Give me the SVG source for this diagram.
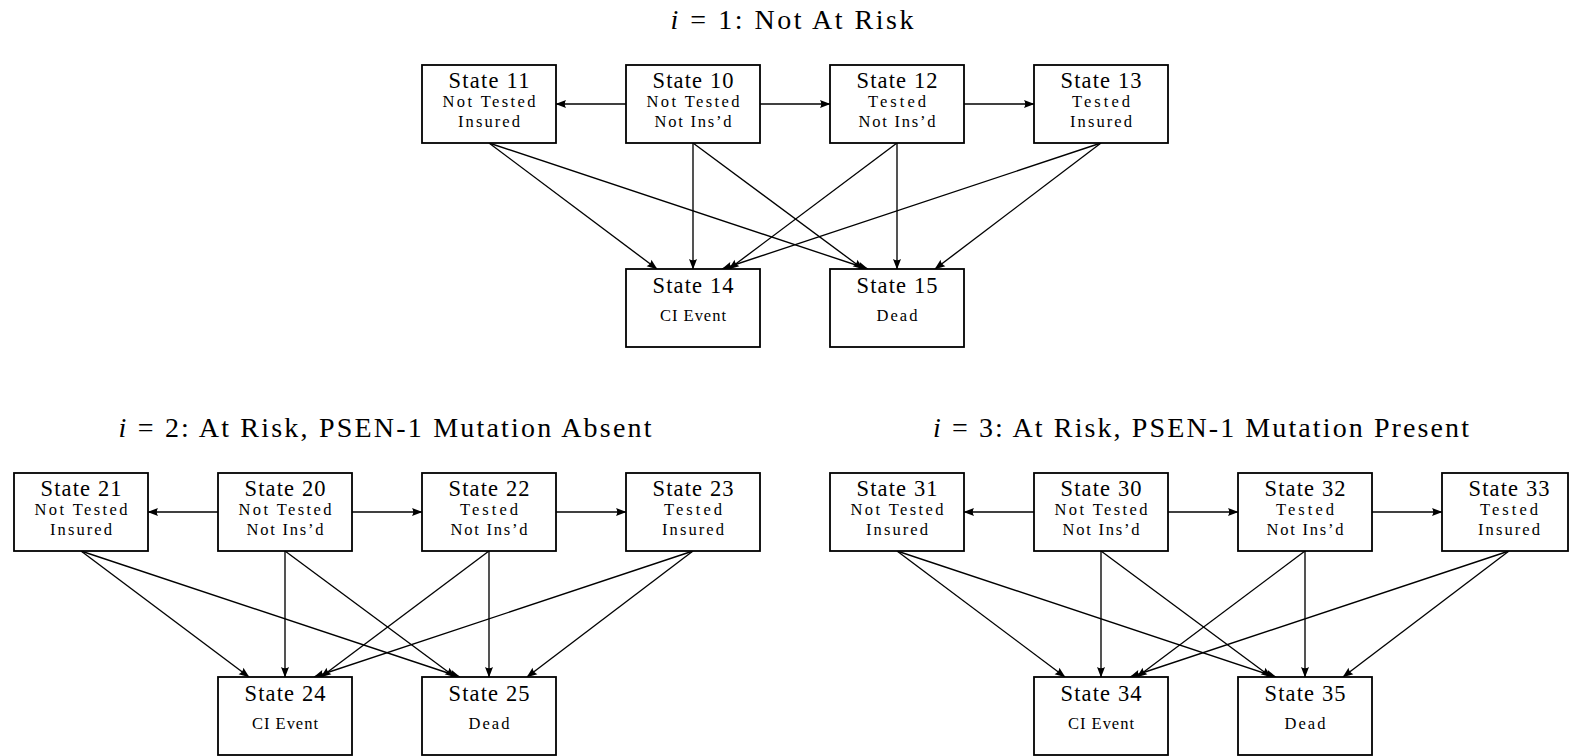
<svg xmlns="http://www.w3.org/2000/svg" width="1570" height="756" viewBox="0 0 1570 756">
<style>
  .box { fill: #ffffff; stroke: #000000; stroke-width: 1.8; }
  .t1 { font-family: "Liberation Serif", "Times New Roman", serif; font-size: 22.5px; text-anchor: middle; fill: #000; }
  .t2 { font-family: "Liberation Serif", "Times New Roman", serif; font-size: 16.5px; text-anchor: middle; fill: #000; }
  .title { font-family: "Liberation Serif", "Times New Roman", serif; font-size: 28px; text-anchor: middle; fill: #000; }
  .edge { fill: none; stroke: #000000; stroke-width: 1.35; marker-end: url(#arr); }
</style>
<defs>
  <marker id="arr" markerUnits="userSpaceOnUse" viewBox="-11 -5 12 10" refX="0" refY="0" markerWidth="12" markerHeight="10" orient="auto">
    <path d="M0.5,0 L-10,-4 Q-7.5,0 -10,4 Z" fill="#000"/>
  </marker>
</defs>
<rect width="1570" height="756" fill="#ffffff"/>

<text class="title" x="792" y="29" textLength="243" lengthAdjust="spacing"><tspan font-style="italic">i</tspan> = 1: Not At Risk</text>
<text class="title" x="385" y="437" textLength="533" lengthAdjust="spacing"><tspan font-style="italic">i</tspan> = 2: At Risk, PSEN-1 Mutation Absent</text>
<text class="title" x="1201" y="437" textLength="536" lengthAdjust="spacing"><tspan font-style="italic">i</tspan> = 3: At Risk, PSEN-1 Mutation Present</text>

<!-- Panel 1 -->
<g id="panel1" transform="translate(422,65)">
  <g id="connectors1">
    <path class="edge" d="M204,39 L134,39"/>
    <path class="edge" d="M338,39 L408,39"/>
    <path class="edge" d="M542,39 L612,39"/>
    <path class="edge" d="M67,78 L235,204"/>
    <path class="edge" d="M67,78 L446,204"/>
    <path class="edge" d="M271,78 L271,204"/>
    <path class="edge" d="M271,78 L441,204"/>
    <path class="edge" d="M475,78 L307,204"/>
    <path class="edge" d="M475,78 L475,204"/>
    <path class="edge" d="M679,78 L300,204"/>
    <path class="edge" d="M679,78 L513,204"/>
  </g>
  <g id="state11">
    <rect class="box" x="0" y="0" width="134" height="78"/>
    <text class="t1" x="67" y="23" textLength="81" lengthAdjust="spacing">State 11</text>
    <text class="t2" x="67" y="42" textLength="93" lengthAdjust="spacing">Not Tested</text>
    <text class="t2" x="67" y="62" textLength="62" lengthAdjust="spacing">Insured</text>
  </g>
  <g id="state10">
    <rect class="box" x="204" y="0" width="134" height="78"/>
    <text class="t1" x="271" y="23" textLength="81" lengthAdjust="spacing">State 10</text>
    <text class="t2" x="271" y="42" textLength="93" lengthAdjust="spacing">Not Tested</text>
    <text class="t2" x="271" y="62" textLength="77" lengthAdjust="spacing">Not Ins’d</text>
  </g>
  <g id="state12">
    <rect class="box" x="408" y="0" width="134" height="78"/>
    <text class="t1" x="475" y="23" textLength="81" lengthAdjust="spacing">State 12</text>
    <text class="t2" x="475" y="42" textLength="58" lengthAdjust="spacing">Tested</text>
    <text class="t2" x="475" y="62" textLength="77" lengthAdjust="spacing">Not Ins’d</text>
  </g>
  <g id="state13">
    <rect class="box" x="612" y="0" width="134" height="78"/>
    <text class="t1" x="679" y="23" textLength="81" lengthAdjust="spacing">State 13</text>
    <text class="t2" x="679" y="42" textLength="58" lengthAdjust="spacing">Tested</text>
    <text class="t2" x="679" y="62" textLength="62" lengthAdjust="spacing">Insured</text>
  </g>
  <g id="state14">
    <rect class="box" x="204" y="204" width="134" height="78"/>
    <text class="t1" x="271" y="228" textLength="81" lengthAdjust="spacing">State 14</text>
    <text class="t2" x="271" y="256" textLength="66" lengthAdjust="spacing">CI Event</text>
  </g>
  <g id="state15">
    <rect class="box" x="408" y="204" width="134" height="78"/>
    <text class="t1" x="475" y="228" textLength="81" lengthAdjust="spacing">State 15</text>
    <text class="t2" x="475" y="256" textLength="41" lengthAdjust="spacing">Dead</text>
  </g>
</g>

<!-- Panel 2 -->
<g id="panel2" transform="translate(14,473)">
  <g id="connectors2">
    <path class="edge" d="M204,39 L134,39"/>
    <path class="edge" d="M338,39 L408,39"/>
    <path class="edge" d="M542,39 L612,39"/>
    <path class="edge" d="M67,78 L235,204"/>
    <path class="edge" d="M67,78 L446,204"/>
    <path class="edge" d="M271,78 L271,204"/>
    <path class="edge" d="M271,78 L441,204"/>
    <path class="edge" d="M475,78 L307,204"/>
    <path class="edge" d="M475,78 L475,204"/>
    <path class="edge" d="M679,78 L300,204"/>
    <path class="edge" d="M679,78 L513,204"/>
  </g>
  <g id="state21">
    <rect class="box" x="0" y="0" width="134" height="78"/>
    <text class="t1" x="67" y="23" textLength="81" lengthAdjust="spacing">State 21</text>
    <text class="t2" x="67" y="42" textLength="93" lengthAdjust="spacing">Not Tested</text>
    <text class="t2" x="67" y="62" textLength="62" lengthAdjust="spacing">Insured</text>
  </g>
  <g id="state20">
    <rect class="box" x="204" y="0" width="134" height="78"/>
    <text class="t1" x="271" y="23" textLength="81" lengthAdjust="spacing">State 20</text>
    <text class="t2" x="271" y="42" textLength="93" lengthAdjust="spacing">Not Tested</text>
    <text class="t2" x="271" y="62" textLength="77" lengthAdjust="spacing">Not Ins’d</text>
  </g>
  <g id="state22">
    <rect class="box" x="408" y="0" width="134" height="78"/>
    <text class="t1" x="475" y="23" textLength="81" lengthAdjust="spacing">State 22</text>
    <text class="t2" x="475" y="42" textLength="58" lengthAdjust="spacing">Tested</text>
    <text class="t2" x="475" y="62" textLength="77" lengthAdjust="spacing">Not Ins’d</text>
  </g>
  <g id="state23">
    <rect class="box" x="612" y="0" width="134" height="78"/>
    <text class="t1" x="679" y="23" textLength="81" lengthAdjust="spacing">State 23</text>
    <text class="t2" x="679" y="42" textLength="58" lengthAdjust="spacing">Tested</text>
    <text class="t2" x="679" y="62" textLength="62" lengthAdjust="spacing">Insured</text>
  </g>
  <g id="state24">
    <rect class="box" x="204" y="204" width="134" height="78"/>
    <text class="t1" x="271" y="228" textLength="81" lengthAdjust="spacing">State 24</text>
    <text class="t2" x="271" y="256" textLength="66" lengthAdjust="spacing">CI Event</text>
  </g>
  <g id="state25">
    <rect class="box" x="408" y="204" width="134" height="78"/>
    <text class="t1" x="475" y="228" textLength="81" lengthAdjust="spacing">State 25</text>
    <text class="t2" x="475" y="256" textLength="41" lengthAdjust="spacing">Dead</text>
  </g>
</g>

<!-- Panel 3 -->
<g id="panel3" transform="translate(830,473)">
  <g id="connectors3">
    <path class="edge" d="M204,39 L134,39"/>
    <path class="edge" d="M338,39 L408,39"/>
    <path class="edge" d="M542,39 L612,39"/>
    <path class="edge" d="M67,78 L235,204"/>
    <path class="edge" d="M67,78 L446,204"/>
    <path class="edge" d="M271,78 L271,204"/>
    <path class="edge" d="M271,78 L441,204"/>
    <path class="edge" d="M475,78 L307,204"/>
    <path class="edge" d="M475,78 L475,204"/>
    <path class="edge" d="M679,78 L300,204"/>
    <path class="edge" d="M679,78 L513,204"/>
  </g>
  <g id="state31">
    <rect class="box" x="0" y="0" width="134" height="78"/>
    <text class="t1" x="67" y="23" textLength="81" lengthAdjust="spacing">State 31</text>
    <text class="t2" x="67" y="42" textLength="93" lengthAdjust="spacing">Not Tested</text>
    <text class="t2" x="67" y="62" textLength="62" lengthAdjust="spacing">Insured</text>
  </g>
  <g id="state30">
    <rect class="box" x="204" y="0" width="134" height="78"/>
    <text class="t1" x="271" y="23" textLength="81" lengthAdjust="spacing">State 30</text>
    <text class="t2" x="271" y="42" textLength="93" lengthAdjust="spacing">Not Tested</text>
    <text class="t2" x="271" y="62" textLength="77" lengthAdjust="spacing">Not Ins’d</text>
  </g>
  <g id="state32">
    <rect class="box" x="408" y="0" width="134" height="78"/>
    <text class="t1" x="475" y="23" textLength="81" lengthAdjust="spacing">State 32</text>
    <text class="t2" x="475" y="42" textLength="58" lengthAdjust="spacing">Tested</text>
    <text class="t2" x="475" y="62" textLength="77" lengthAdjust="spacing">Not Ins’d</text>
  </g>
  <g id="state33">
    <rect class="box" x="612" y="0" width="126" height="78"/>
    <text class="t1" x="679" y="23" textLength="81" lengthAdjust="spacing">State 33</text>
    <text class="t2" x="679" y="42" textLength="58" lengthAdjust="spacing">Tested</text>
    <text class="t2" x="679" y="62" textLength="62" lengthAdjust="spacing">Insured</text>
  </g>
  <g id="state34">
    <rect class="box" x="204" y="204" width="134" height="78"/>
    <text class="t1" x="271" y="228" textLength="81" lengthAdjust="spacing">State 34</text>
    <text class="t2" x="271" y="256" textLength="66" lengthAdjust="spacing">CI Event</text>
  </g>
  <g id="state35">
    <rect class="box" x="408" y="204" width="134" height="78"/>
    <text class="t1" x="475" y="228" textLength="81" lengthAdjust="spacing">State 35</text>
    <text class="t2" x="475" y="256" textLength="41" lengthAdjust="spacing">Dead</text>
  </g>
</g>
</svg>
